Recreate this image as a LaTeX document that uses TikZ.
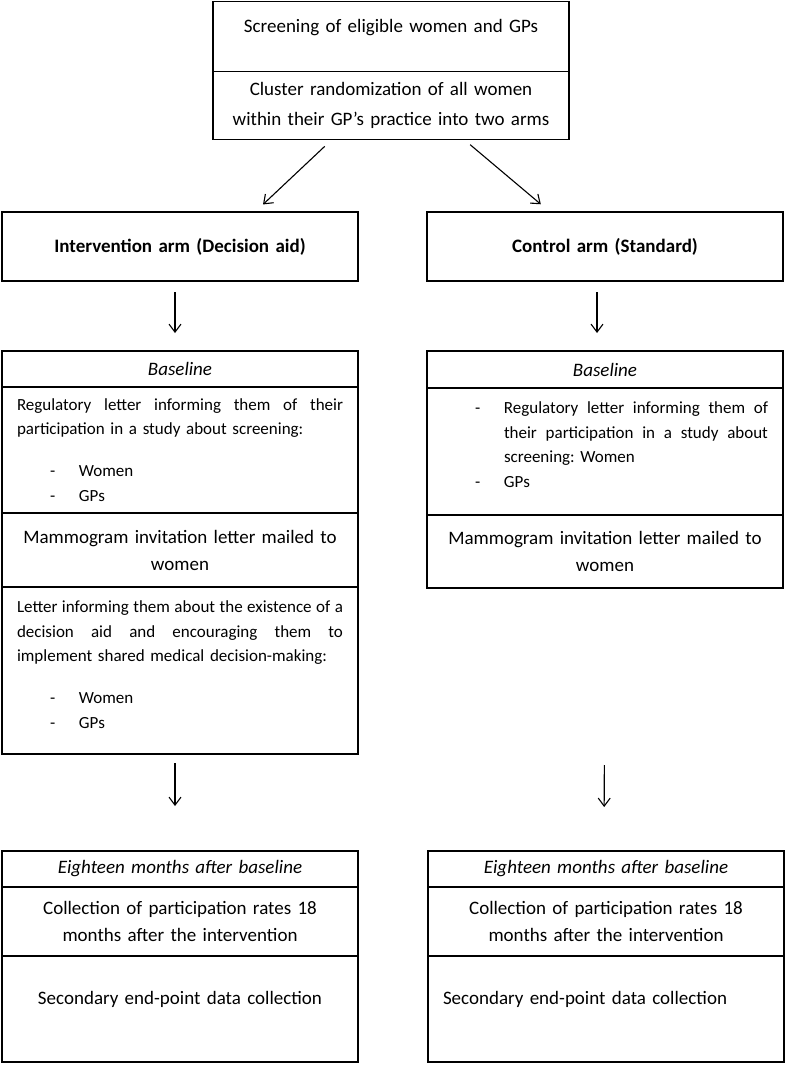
\documentclass[tikz,border=0pt]{standalone}
\usepackage{fontspec}
\setmainfont{Carlito}
\usetikzlibrary{positioning,arrows.meta}
\frenchspacing

\newcommand\bigtxt{\fontsize{19}{27}\selectfont}
\newcommand\toptxt{\fontsize{19}{30}\selectfont}
\newcommand\smalltxt{\fontsize{17}{24.5}\selectfont}
\newcommand\dashitem[1]{\hspace*{33pt}\makebox[29pt][l]{-}#1}
\newcommand\fullline[2]{\leavevmode\hbox to #1{\spaceskip=.15em plus 1fil\relax #2}}

\tikzset{
  cell/.style={draw, line width=1.3pt, outer sep=0pt, inner xsep=15pt, inner ysep=2pt,
    text width=326pt, minimum width=356pt, align=center, font=\bigtxt},
  arr/.style={line width=1.1pt, -{Straight Barb[length=8pt,width=12pt]}}
}

\begin{document}
\begin{tikzpicture}[x=1pt, y=-1pt]
\useasboundingbox (0,0) rectangle (786,1065);

\node[cell, anchor=north west, minimum height=70pt, text depth=22pt] (screen) at (213,1.5) {Screening of eligible women and GPs};
\node[cell, below=0pt of screen, minimum height=68pt, font=\toptxt] (rand) {Cluster randomization of all women\\within their GP’s practice into two arms};

\node[cell, anchor=north west, minimum height=69pt, font=\bigtxt\bfseries] (inter) at (2,212) {Intervention arm (Decision aid)};
\node[cell, right=69pt of inter, minimum height=69pt, font=\bigtxt\bfseries] (ctrl) {Control arm (Standard)};

% intervention arm
\node[cell, below=70pt of inter, minimum height=36pt, font=\bigtxt\itshape] (ibase) {Baseline};
\node[cell, below=0pt of ibase, minimum height=126pt, align=left, font=\smalltxt] (ireg) {\fullline{326pt}{Regulatory letter informing them of their}\\
participation in a study about screening:\\[17.5pt]
\dashitem{Women}\\
\dashitem{GPs}};
\node[cell, below=0pt of ireg, minimum height=74pt] (imam) {Mammogram invitation letter mailed to\\women};
\node[cell, below=0pt of imam, minimum height=167pt, align=left, font=\smalltxt] (iletter) {\fullline{326pt}{Letter informing them about the existence of a}\\
\fullline{326pt}{decision aid and encouraging them to}\\
implement shared medical decision-making:\\[17.5pt]
\dashitem{Women}\\
\dashitem{GPs}\\[-12.5pt]\mbox{}};

% control arm
\node[cell, below=70pt of ctrl, minimum height=37pt, font=\bigtxt\itshape] (cbase) {Baseline};
\node[cell, below=0pt of cbase, minimum height=127pt, align=left, font=\smalltxt] (creg) {\dashitem{\fullline{264pt}{Regulatory letter informing them of}}\\
\hspace*{62pt}\fullline{264pt}{their participation in a study about}\\
\hspace*{62pt}screening: Women\\
\dashitem{GPs}\\[-10.5pt]\mbox{}};
\node[cell, below=0pt of creg, minimum height=73pt] (cmam) {Mammogram invitation letter mailed to\\women};

% eighteen months
\node[cell, below=97pt of iletter, minimum height=36pt, font=\bigtxt\itshape] (iend) {Eighteen months after baseline};
\node[cell, below=0pt of iend, minimum height=69pt] (icoll) {Collection of participation rates 18\\months after the intervention};
\node[cell, below=0pt of icoll, minimum height=106pt, text depth=22pt] (isec) {Secondary end-point data collection};
\node[cell, right=70pt of iend, minimum height=36pt, font=\bigtxt\itshape] (cend) {Eighteen months after baseline};
\node[cell, below=0pt of cend, minimum height=69pt] (ccoll) {Collection of participation rates 18\\months after the intervention};
\node[cell, below=0pt of ccoll, minimum height=106pt, align=left, inner xsep=14pt, text depth=22pt] (csec) {Secondary end-point data collection};

\draw[arr, shorten <=10pt, shorten >=11pt] ([xshift=119pt]rand.south west) -- ([xshift=253pt]inter.north west);
\draw[arr, shorten <=8pt, shorten >=12pt] ([xshift=251pt]rand.south west) -- ([xshift=123pt]ctrl.north west);
\draw[arr, shorten <=11pt, shorten >=18pt] ([xshift=-5pt]inter.south) -- ([xshift=-5pt]ibase.north);
\draw[arr, shorten <=11pt, shorten >=18pt] ([xshift=-8pt]ctrl.south) -- ([xshift=-8pt]cbase.north);
\draw[arr, shorten <=9pt, shorten >=45pt] ([xshift=-5pt]iletter.south) -- ([xshift=-5pt]iend.north);
\draw[arr, shorten <=177pt, shorten >=44pt] (cmam.south) -- ([xshift=-2pt]cend.north);
\end{tikzpicture}
\end{document}
